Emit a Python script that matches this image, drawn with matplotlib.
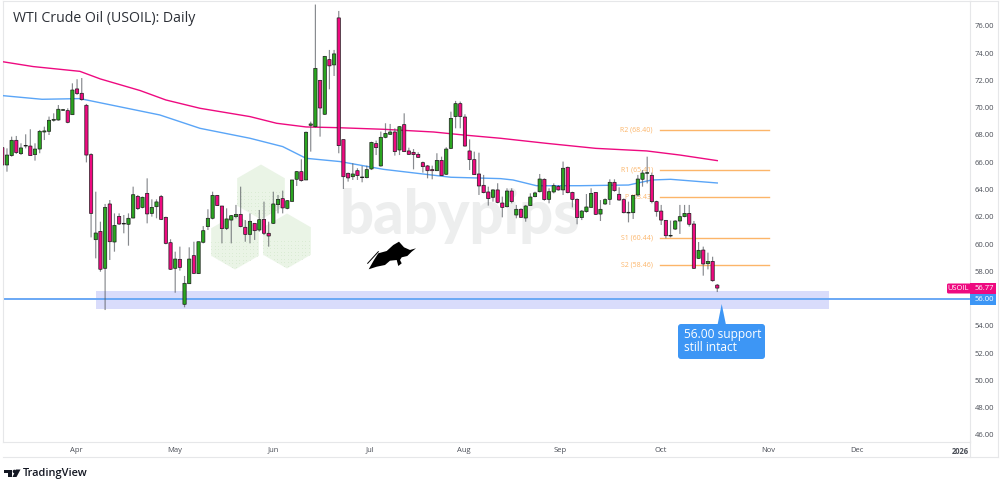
import numpy as np
import matplotlib
matplotlib.use('Agg')
import matplotlib.pyplot as plt
from matplotlib.patches import Polygon, Rectangle, FancyBboxPatch, Circle, RegularPolygon

plt.rcParams['font.family'] = ['Open Sans', 'DejaVu Sans']

# daily candles, oldest first
opens = [67.07, 65.80, 66.49, 67.61, 66.63, 67.19, 67.19, 66.56, 66.97, 68.22, 68.27, 69.08, 69.10, 69.81, 69.79, 69.49,
         71.38, 71.06, 70.18, 66.56, 60.32, 60.93, 58.22, 62.94, 60.15, 62.03, 61.47, 61.45, 61.91, 63.50, 62.69, 63.72,
         62.25, 62.74, 63.48, 61.96, 60.10, 58.22, 58.88, 55.58, 57.09, 59.15, 57.83, 60.13, 61.28, 61.89, 63.57, 62.79,
         61.15, 61.76, 62.01, 62.18, 61.23, 60.71, 61.52, 61.03, 61.81, 60.79, 61.52, 62.89, 63.33, 62.62, 63.13, 64.75,
         65.31, 64.70, 68.71, 68.61, 72.01, 69.52, 73.53, 73.14, 76.59, 67.66, 65.19, 64.94, 65.38, 64.87, 64.87, 65.51,
         67.37, 65.73, 67.83, 68.05, 68.22, 66.90, 68.76, 66.83, 66.73, 66.58, 65.97, 65.73, 65.46, 65.38, 66.14, 65.12,
         67.02, 69.35, 70.30, 69.32, 66.83, 66.19, 65.14, 64.31, 63.82, 63.43, 63.97, 63.01, 62.74, 63.89, 62.13, 62.55,
         61.91, 62.82, 63.48, 63.84, 64.75, 63.28, 63.82, 64.23, 63.97, 65.63, 63.79, 63.28, 61.94, 62.38, 62.69, 63.79,
         62.20, 62.94, 63.28, 64.53, 63.65, 63.26, 62.28, 62.30, 63.60, 64.75, 65.19, 65.04, 63.11, 62.42, 61.74, 60.59,
         61.10, 61.69, 62.01, 62.25, 61.47, 58.95, 59.56, 58.56, 58.73, 56.99]
highs = [67.15, 67.02, 67.88, 67.93, 67.39, 68.05, 68.42, 67.39, 68.37, 68.61, 69.35, 69.59, 70.20, 69.91, 69.96, 71.79,
         72.09, 72.18, 70.28, 66.66, 63.84, 61.64, 62.94, 63.23, 62.25, 62.25, 62.13, 62.25, 64.21, 63.60, 63.48, 64.82,
         63.28, 63.28, 63.60, 62.01, 60.35, 59.44, 59.81, 57.66, 59.76, 60.17, 60.17, 61.32, 62.55, 63.84, 63.60, 62.79,
         62.62, 62.13, 62.87, 64.21, 61.76, 62.25, 61.52, 62.50, 63.11, 61.64, 63.84, 63.60, 63.92, 63.23, 64.70, 65.36,
         66.22, 68.25, 68.98, 77.57, 72.04, 73.80, 74.24, 74.24, 77.10, 67.66, 65.24, 65.92, 65.56, 65.73, 65.75, 67.51,
         67.59, 68.25, 68.86, 68.81, 68.49, 68.66, 69.59, 67.07, 66.97, 66.73, 66.05, 65.80, 65.75, 66.66, 66.41, 67.10,
         69.71, 70.50, 70.45, 69.52, 67.68, 66.78, 66.70, 65.07, 64.21, 64.01, 64.46, 63.48, 64.09, 64.09, 62.87, 62.62,
         62.87, 63.72, 63.84, 65.14, 64.82, 64.09, 64.45, 64.33, 66.05, 65.68, 63.84, 63.35, 62.50, 63.67, 64.09, 63.79,
         63.23, 63.35, 64.75, 64.75, 64.16, 63.35, 63.11, 63.60, 65.07, 65.43, 66.41, 65.24, 63.18, 62.87, 61.76, 61.72,
         61.76, 62.87, 62.87, 62.87, 61.69, 60.15, 59.81, 59.37, 59.07, 57.07]
lows = [65.68, 65.31, 66.41, 66.61, 66.53, 67.02, 66.49, 66.12, 66.66, 67.63, 68.00, 68.98, 69.05, 69.76, 68.86, 69.47,
        70.94, 70.52, 65.99, 60.49, 58.95, 57.97, 55.16, 58.83, 59.44, 61.40, 60.79, 59.88, 61.89, 62.50, 62.62, 61.52,
        62.01, 61.89, 61.76, 59.98, 58.10, 56.43, 58.05, 55.36, 57.07, 57.80, 57.80, 60.05, 61.03, 61.81, 62.79, 60.05,
        61.03, 60.05, 61.89, 61.23, 60.17, 60.05, 60.30, 60.91, 60.66, 59.81, 61.47, 62.25, 62.25, 62.55, 63.11, 64.26,
        64.58, 64.70, 66.78, 68.55, 67.88, 69.47, 71.35, 72.33, 66.66, 64.04, 64.58, 64.70, 64.70, 64.53, 64.82, 65.43,
        66.53, 65.68, 67.76, 68.00, 66.49, 66.53, 66.75, 66.56, 65.48, 66.34, 65.24, 64.82, 64.75, 65.36, 65.00, 65.07,
        66.97, 68.49, 68.49, 67.15, 65.43, 65.07, 63.60, 63.72, 62.82, 63.11, 62.99, 61.96, 62.69, 62.99, 61.89, 61.94,
        61.64, 62.79, 63.43, 63.79, 63.18, 62.99, 63.72, 63.92, 63.60, 63.72, 62.69, 61.45, 61.76, 62.30, 62.67, 62.13,
        61.69, 62.87, 62.87, 63.84, 63.18, 62.25, 61.59, 61.84, 63.48, 64.21, 64.45, 62.99, 62.01, 61.40, 60.42, 60.49,
        61.03, 60.74, 61.96, 61.28, 58.17, 58.90, 57.68, 58.14, 57.24, 56.48]
closes = [65.80, 66.53, 67.61, 66.71, 67.05, 67.24, 66.49, 66.97, 68.27, 68.30, 69.08, 69.15, 69.89, 69.86, 68.93, 71.30,
          71.04, 70.59, 66.53, 62.25, 60.81, 58.15, 62.69, 60.17, 61.37, 61.47, 61.52, 61.89, 63.62, 62.60, 63.43, 62.21,
          62.69, 63.09, 61.81, 60.05, 58.15, 58.90, 58.29, 57.12, 58.90, 57.85, 60.17, 60.98, 61.89, 63.57, 62.82, 61.13,
          61.84, 62.08, 62.18, 61.28, 60.71, 61.67, 60.98, 61.79, 60.79, 60.59, 62.94, 63.28, 62.65, 63.18, 64.70, 65.31,
          64.65, 68.20, 68.81, 72.89, 69.98, 73.77, 73.07, 73.95, 67.22, 64.94, 64.85, 65.14, 65.02, 64.92, 65.46, 67.46,
          67.07, 67.83, 68.12, 68.22, 66.78, 68.61, 66.78, 66.58, 66.56, 66.36, 65.68, 65.38, 65.38, 66.14, 65.02, 66.97,
          69.22, 70.30, 69.35, 67.19, 66.19, 65.09, 64.26, 63.77, 63.33, 63.97, 63.06, 62.69, 63.89, 63.11, 62.55, 61.96,
          62.79, 63.45, 63.75, 64.77, 63.26, 63.84, 64.28, 63.97, 65.56, 63.77, 63.28, 61.94, 62.42, 62.72, 63.72, 62.18,
          62.55, 63.26, 64.53, 63.92, 63.23, 62.30, 62.33, 63.57, 64.77, 65.21, 65.24, 63.11, 62.38, 61.76, 60.61, 60.64,
          61.69, 62.01, 62.25, 61.45, 58.22, 59.54, 58.54, 58.73, 57.31, 56.77]

# moving averages, read at a few bars and joined
ma_pink_bars = [0, 6.6, 16.6, 21, 29.5, 35, 42.3, 53, 58.7, 65, 71.5, 81.5, 92.3, 98.7, 106.6, 116.4, 127, 137.9, 145, 153]
ma_pink = [73.38, 73.02, 72.67, 72.11, 71.26, 70.57, 69.96, 69.35, 68.86, 68.59, 68.54, 68.42, 68.22, 68.00, 67.76,
           67.39, 67.02, 66.83, 66.53, 66.12]
ma_blue_bars = [0, 8.5, 16.6, 33.7, 42.3, 53, 60, 65, 72.3, 81.6, 90, 96, 106.6, 109.3, 114.3, 123.6, 134, 139, 143, 153]
ma_blue = [70.89, 70.62, 70.67, 69.47, 68.49, 67.76, 67.15, 66.29, 66.05, 65.48, 65.14, 64.90, 64.80, 64.70, 64.28,
           64.28, 64.33, 64.70, 64.75, 64.48]

pivot_names = ['R2', 'R1', 'P', 'S1', 'S2']
pivot_values = [68.40, 65.41, 63.43, 60.44, 58.46]

price_ticks = list(range(46, 78, 2))
month_labels = ['Apr', 'May', 'Jun', 'Jul', 'Aug', 'Sep', 'Oct', 'Nov', 'Dec', '2026']
month_bars = [15.8, 37, 57.9, 78.7, 98.8, 119.3, 140.9, 163.9, 182.9, 205]

support = 56.00
last_price = 56.77

GREEN = '#2aa520'
PINK = '#ee0a80'
BLUE = '#3d96f5'
ORANGE = '#fcb569'
TEXT = '#4a4e57'

fig = plt.figure(figsize=(10, 4.79), dpi=100, facecolor='white')

# pixel layers behind and in front of the chart
bg = fig.add_axes([0, 0, 1, 1], zorder=0)
fg = fig.add_axes([0, 0, 1, 1], zorder=3)
for a in (bg, fg):
    a.set_xlim(0, 1000)
    a.set_ylim(479, 0)
    a.axis('off')
fg.patch.set_alpha(0)

ax = fig.add_axes([2.7 / 1000, 1 - 441.7 / 479, 967.3 / 1000, 440.7 / 479], zorder=1)
ax.patch.set_alpha(0)
ax.set_xlim(0.086, 207.08)
ax.set_ylim(45.5, 77.83)

# babypips watermark
for cx, cy in [(261, 192), (235, 242), (287, 241)]:
    hexa = RegularPolygon((cx, cy), 6, radius=27.5, orientation=0, facecolor='#eaf4e6', edgecolor='none')
    bg.add_patch(hexa)
    gx, gy = np.meshgrid(np.arange(cx - 24, cx + 25, 3.5), np.arange(cy, cy + 26, 3.5))
    dots = bg.scatter(gx.ravel(), gy.ravel(), s=0.4, color='#d8ead2', linewidths=0)
    dots.set_clip_path(hexa)
bg.text(460, 216, 'babypips', fontsize=43, fontweight='black', family='Lato', color='#edeeee',
        ha='center', va='center')

# support zone and price line
ax.add_patch(Rectangle((20.05, 55.24), 156.85, 1.32, facecolor='#d9dcfb', edgecolor='none', zorder=1))
ax.axhline(support, color='#6aa8f5', lw=1.4, zorder=2)

# pivots
for name, val in zip(pivot_names, pivot_values):
    ax.plot([140.7, 164], [val, val], color=ORANGE, lw=1, zorder=2)
    ax.text(139.2, val, f'{name} ({val:.2f})', color=ORANGE, fontsize=5, ha='right', va='center', zorder=2)

ax.plot(ma_pink_bars, ma_pink, color=PINK, lw=1.0, zorder=3)
ax.plot(ma_blue_bars, ma_blue, color='#5aa5f7', lw=1.0, zorder=3)

# candles
bars = np.arange(len(opens))
o = np.array(opens)
c = np.array(closes)
colors = [GREEN if cl >= op else PINK for op, cl in zip(opens, closes)]
wicks = ax.vlines(bars, lows, highs, color='#55595f', lw=0.85, alpha=0.7, zorder=4)
wicks.set_snap(False)
bodies = ax.bar(bars, np.abs(c - o), bottom=np.minimum(o, c), width=0.7, color=colors, edgecolor='#1c1c1c', linewidth=0.5, zorder=5)
for b in bodies:
    b.set_snap(False)

# axes
for side in ['top', 'left', 'right', 'bottom']:
    ax.spines[side].set_color('#e6e7e9')
    ax.spines[side].set_linewidth(0.8)
ax.yaxis.tick_right()
ax.set_yticks(price_ticks)
ax.set_yticklabels([f'{p:.2f}' for p in price_ticks], fontsize=5.5, color=TEXT)
ax.set_xticks(month_bars)
ax.set_xticklabels(month_labels, fontsize=5.5, color=TEXT)
ax.get_xticklabels()[-1].set_fontweight('bold')
ax.tick_params(axis='both', length=0)
ax.tick_params(axis='y', pad=3.6)
ax.tick_params(axis='x', pad=3.5)

# frame under the time scale
fg.plot([2.7, 998], [457, 457], color='#e6e7e9', lw=0.8)
fg.plot([970, 970], [441, 457], color='#e6e7e9', lw=0.8)
fg.plot([998, 998], [1, 457], color='#e6e7e9', lw=0.8)
fg.plot([970, 998], [1, 1], color='#e6e7e9', lw=0.8)

fg.text(13, 18, 'WTI Crude Oil (USOIL): Daily', fontsize=10.2, color='#2b2f36', ha='left', va='center')

# price tags
fg.add_patch(FancyBboxPatch((947, 283.5), 24, 10, boxstyle='round,pad=0,rounding_size=1.5', facecolor=PINK, edgecolor='none'))
fg.add_patch(Rectangle((970, 283), 26, 11, facecolor=PINK, edgecolor='none'))
fg.add_patch(Rectangle((970, 294), 26, 10.5, facecolor=BLUE, edgecolor='none'))
fg.text(958.5, 288.7, 'USOIL', color='white', fontsize=5.4, ha='center', va='center')
fg.text(975, 288.7, f'{last_price:.2f}', color='white', fontsize=5.5, ha='left', va='center')
fg.text(975, 299.3, f'{support:.2f}', color='white', fontsize=5.5, ha='left', va='center')

# callout
fg.add_patch(Polygon([(721.7, 304), (717.5, 325), (726, 325)], facecolor=BLUE, edgecolor='none'))
fg.add_patch(FancyBboxPatch((678, 324), 87, 35, boxstyle='round,pad=0,rounding_size=3', facecolor=BLUE, edgecolor='none'))
fg.text(683.5, 341, '56.00 support\nstill intact', color='white', fontsize=8.6, ha='left', va='center', linespacing=0.98)

# bull
fg.add_patch(Polygon([(368.7, 269.3), (374, 260), (378.3, 253.3), (386.7, 251), (393.3, 245), (399, 241.7), (404, 247.3),
                      (410, 250), (416, 248.3), (411.7, 251.7), (407.3, 256), (401.7, 257.3), (400, 260), (401.7, 263.3),
                      (398.3, 266), (396.7, 260), (390, 260.7), (385, 265), (376.7, 266.7)], facecolor='black', edgecolor='none'))
fg.plot([367.7, 378.3], [263.3, 251.7], color='black', lw=0.7)

# TradingView logo
fg.add_patch(Polygon([(3.5, 469.5), (12, 469.5), (12, 477), (8, 477), (8, 473), (3.5, 473)], facecolor='#131722', edgecolor='none'))
fg.add_patch(Circle((14.5, 471.5), 1.8, facecolor='#131722', edgecolor='none'))
fg.add_patch(Polygon([(16, 469.5), (20.5, 469.5), (16.5, 477), (12.5, 477)], facecolor='#131722', edgecolor='none'))
fg.text(23, 473.2, 'TradingView', fontsize=7.9, fontweight='semibold', color='#131722', ha='left', va='center')

fig.savefig('out.png', dpi=100)
